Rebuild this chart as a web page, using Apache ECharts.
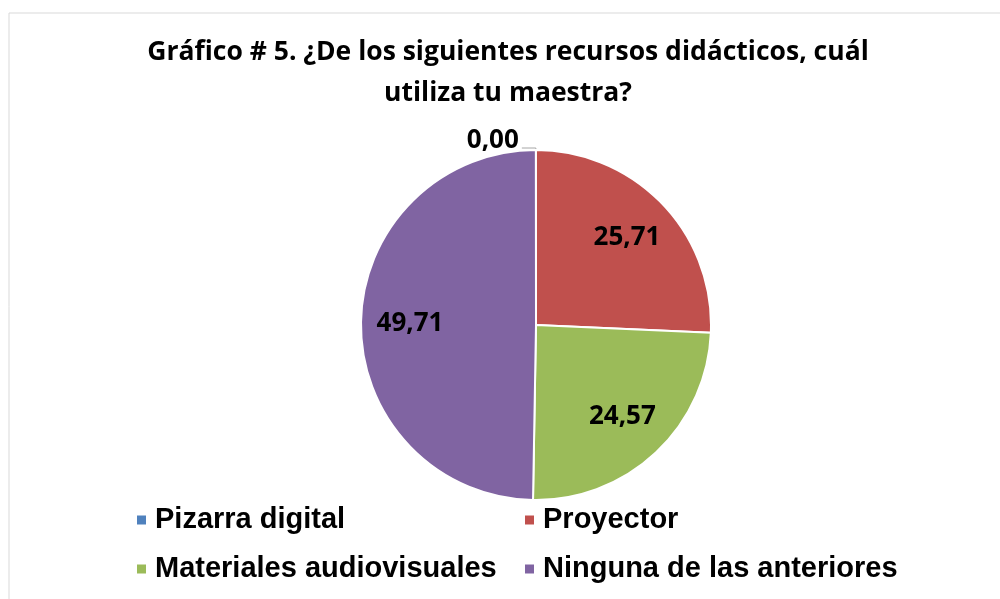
<!DOCTYPE html>
<html>
<head>
<meta charset="utf-8">
<script src="https://cdn.jsdelivr.net/npm/echarts@6/dist/echarts.min.js"></script>
<style>
  html, body { margin: 0; padding: 0; background: #fff; }
  #chart { width: 1000px; height: 599px; }
</style>
</head>
<body>
<div id="chart"></div>
<script>
// datos del gráfico
const categories = ['Pizarra digital', 'Proyector', 'Materiales audiovisuales', 'Ninguna de las anteriores'];
const values = [0.00, 25.71, 24.57, 49.71];
const colors = ['#4F81BD', '#C0504D', '#9BBB59', '#8064A2'];

const fmt = v => v.toFixed(2).replace('.', ',');
const titleFont = 'Open Sans';
const legendFont = 'Liberation Sans';

const pieData = categories.map((name, i) => ({
  name: name,
  value: values[i],
  itemStyle: { color: colors[i] },
}));

// etiqueta exterior solo para el valor cero
const outerData = pieData.map(d => Object.assign({}, d, {
  label: { show: d.value === 0 },
  labelLine: { show: d.value === 0 },
}));
const innerData = pieData.map(d => Object.assign({}, d, {
  itemStyle: { color: 'transparent' },
  label: { show: d.value !== 0 },
}));

// leyenda: una por elemento, en dos columnas
const legendPos = [[135, 505], [523, 505], [135, 554], [523, 554]];
const legends = categories.map((name, i) => ({
  data: [name],
  left: legendPos[i][0],
  top: legendPos[i][1],
  padding: 0,
  itemWidth: 11,
  itemHeight: 11,
  icon: 'rect',
  selectedMode: false,
  textStyle: {
    fontFamily: legendFont,
    fontWeight: 'bold',
    fontSize: 29,
    color: '#000',
    lineHeight: 30,
    padding: [0, 0, 0, 3],
  },
}));

const myChart = echarts.init(document.getElementById('chart'));
const option = {
  animation: false,
  title: {
    text: 'Gráfico # 5. ¿De los siguientes recursos didácticos, cuál\nutiliza tu maestra?',
    left: 508,
    top: 32,
    padding: 0,
    textAlign: 'center',
    textStyle: {
      fontFamily: titleFont,
      fontWeight: 'bold',
      fontSize: 26.5,
      lineHeight: 41,
      color: '#000',
    },
  },
  legend: legends,
  graphic: [
    {
      type: 'rect',
      shape: { x: 9, y: 13, width: 1000, height: 600 },
      style: { fill: 'none', stroke: '#d9d9d9', lineWidth: 1 },
      silent: true,
    },
  ],
  series: [
    {
      name: 'recursos',
      type: 'pie',
      center: [536, 325],
      radius: [0, 175],
      startAngle: 90.05,
      clockwise: true,
      avoidLabelOverlap: false,
      itemStyle: { borderColor: '#fff', borderWidth: 2 },
      label: {
        position: 'outside',
        formatter: p => '{v|' + fmt(p.value) + '}\n{s|}',
        distanceToLabelLine: 3,
        rich: {
          v: {
            fontFamily: titleFont,
            fontWeight: 'bold',
            fontSize: 26,
            lineHeight: 28,
            color: '#000',
          },
          s: { height: 14, lineHeight: 14 },
        },
      },
      labelLine: {
        length: 2,
        length2: 14,
        lineStyle: { color: '#a6a6a6', width: 1 },
      },
      emphasis: { disabled: true },
      data: outerData,
    },
    {
      name: 'etiquetas',
      type: 'pie',
      center: [536, 325],
      radius: [71, 175],
      startAngle: 90.05,
      clockwise: true,
      silent: true,
      itemStyle: { borderWidth: 0 },
      label: {
        position: 'inside',
        formatter: p => fmt(p.value),
        fontFamily: titleFont,
        fontWeight: 'bold',
        fontSize: 26,
        color: '#000',
      },
      labelLine: { show: false },
      emphasis: { disabled: true },
      data: innerData,
    },
  ],
};
myChart.setOption(option);
</script>
</body>
</html>
